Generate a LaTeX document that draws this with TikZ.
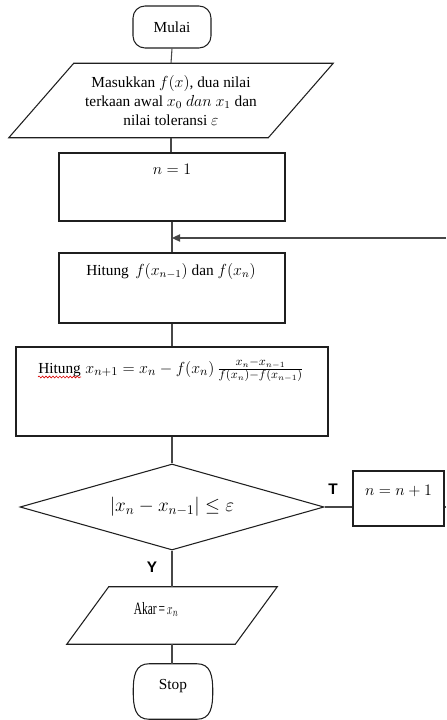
\documentclass[tikz,border=0pt]{standalone}
\usepackage{fontspec}
\usepackage{graphicx}
\setmainfont{Liberation Serif}
\newfontfamily\labelfont{Liberation Sans}
\usetikzlibrary{shapes.geometric, arrows.meta, decorations.pathmorphing, calc}

% one drawing unit = 0.75pt, y grows downwards
\def\px{0.75pt}

\begin{document}
\begin{tikzpicture}[x=0.75pt, y=-0.75pt,
  outline/.style={draw=black!88, line width=0.8pt},
  conn/.style={draw=black!72, line width=0.8pt},
  txt/.style={inner sep=0pt, font=\fontsize{11.5}{14}\selectfont},
  frame/.style={outline, rectangle, inner sep=0pt, minimum width=#1},
  hole/.style={rectangle, inner sep=0pt},
  lab/.style={inner sep=0pt, font=\labelfont\bfseries\fontsize{11.5}{13}\selectfont},
  squiggle/.style={draw=red!85!black, line width=0.45pt, decorate,
    decoration={snake, amplitude=0.7pt, segment length=2.6pt}}
]
\useasboundingbox (0,0) rectangle (446,720);

% --- terminal: start
\node[outline, rectangle, rounded corners=9pt, minimum width=78*\px,
      minimum height=42*\px, inner sep=0pt, txt] (start) at (172,27) {Mulai};

% --- input parallelogram
\node[hole, minimum width=259*\px, minimum height=74*\px, align=center, txt]
  (input) at (171,100.5)
  {Masukkan $f(x)$, dua nilai\\terkaan awal $x_0$ $dan$ $x_1$ dan\\nilai toleransi $\varepsilon$};
\draw[outline] ($(input.north west)+(32.5,0)$) -- ($(input.north east)+(32.5,0)$)
  -- ($(input.south east)+(-32.5,0)$) -- ($(input.south west)+(-32.5,0)$) -- cycle;

% --- process boxes
\node[frame=226*\px, minimum height=68*\px] (b1) at (172,187) {};
\node[txt, anchor=base, font=\fontsize{12.5}{14}\selectfont] (t1) at (172,175) {$n = 1$};

\node[frame=226*\px, minimum height=70*\px] (b2) at (172,288) {};
\node[txt, anchor=base] (t2) at (171,275) {Hitung\, $f(x_{n-1})$ dan $f(x_n)$};

\node[frame=312*\px, minimum height=89*\px] (b3) at (172,391.5) {};
\node[txt, anchor=base west] (h3) at (38,373) {Hitung};
\node[txt, anchor=base west, font=\fontsize{13}{15}\selectfont] (f3) at ($(h3.base east)+(4,0)$)
  {$x_{n+1} = x_n - f(x_n)\,\frac{x_n - x_{n-1}}{f(x_n) - f(x_{n-1})}$};
\draw[squiggle] ($(h3.base west)+(0,4)$) -- ($(h3.base east)+(0,4)$);

% --- decision
\node[outline, diamond, aspect=3.5, minimum width=304*\px, minimum height=86*\px,
      inner sep=0pt, font=\fontsize{14}{16}\selectfont] (dec) at (172,507)
  {$|x_n - x_{n-1}| \le \varepsilon$};

% --- increment box
\node[frame=91*\px, minimum height=55*\px] (inc) at (398.5,498.5) {};
\node[txt, anchor=base] (tinc) at (398.5,495) {$n = n + 1$};

% --- output parallelogram
\node[hole, minimum width=168*\px, minimum height=57*\px] (out) at (172,615.5) {};
\draw[outline] ($(out.north west)+(21,0)$) -- ($(out.north east)+(21,0)$)
  -- ($(out.south east)+(-21,0)$) -- ($(out.south west)+(-21,0)$) -- cycle;
\node[txt, anchor=base, font=\fontsize{13}{15}\selectfont] (tout) at (156,614)
  {\scalebox{0.66}[1]{Akar\,=\,$x_n$}};

% --- terminal: stop
\node[hole, minimum width=79*\px, minimum height=55*\px] (stop) at (173,691.5) {};
\draw[outline]
  ($(stop.north west)+(16,0)$) -- ($(stop.north east)+(-16,0)$)
  .. controls ($(stop.north east)+(-2,0)$) and ($(stop.north east)+(0,12)$) .. (stop.east)
  .. controls ($(stop.south east)+(0,-12)$) and ($(stop.south east)+(-2,0)$) .. ($(stop.south east)+(-16,0)$)
  -- ($(stop.south west)+(16,0)$)
  .. controls ($(stop.south west)+(2,0)$) and ($(stop.south west)+(0,-12)$) .. (stop.west)
  .. controls ($(stop.north west)+(0,12)$) and ($(stop.north west)+(2,0)$) .. cycle;
\node[txt, anchor=base] (tstop) at (173,689) {Stop};

% --- branch labels
\node[lab] (tl) at (333,489.5) {T};
\node[lab] (yl) at (152,567.5) {Y};

% --- connectors along the main column
\draw[conn] (start.south) -- (input.north);
\draw[conn] (input.south) -- (input.south |- b1.north);
\draw[conn] (b1.south) -- (b2.north);
\draw[conn] (b2.south) -- (b3.north);
\draw[conn] (b3.south) -- (dec.north);
\draw[conn] (dec.south) -- (dec.south |- out.north);
\draw[conn] (dec.south |- out.south) -- (stop.north -| dec.south);

% --- false branch and loop back
\draw[conn] (dec.east) -- (dec.east -| inc.west);
\coordinate (edgeA) at (446,507);
\draw[conn] (inc.east |- edgeA) -- (edgeA);
\coordinate (edgeB) at (446,238);
\draw[conn, -{Triangle[length=6pt, width=5.5pt]}] (edgeB) -- (b1.south |- edgeB);
\end{tikzpicture}
\end{document}
